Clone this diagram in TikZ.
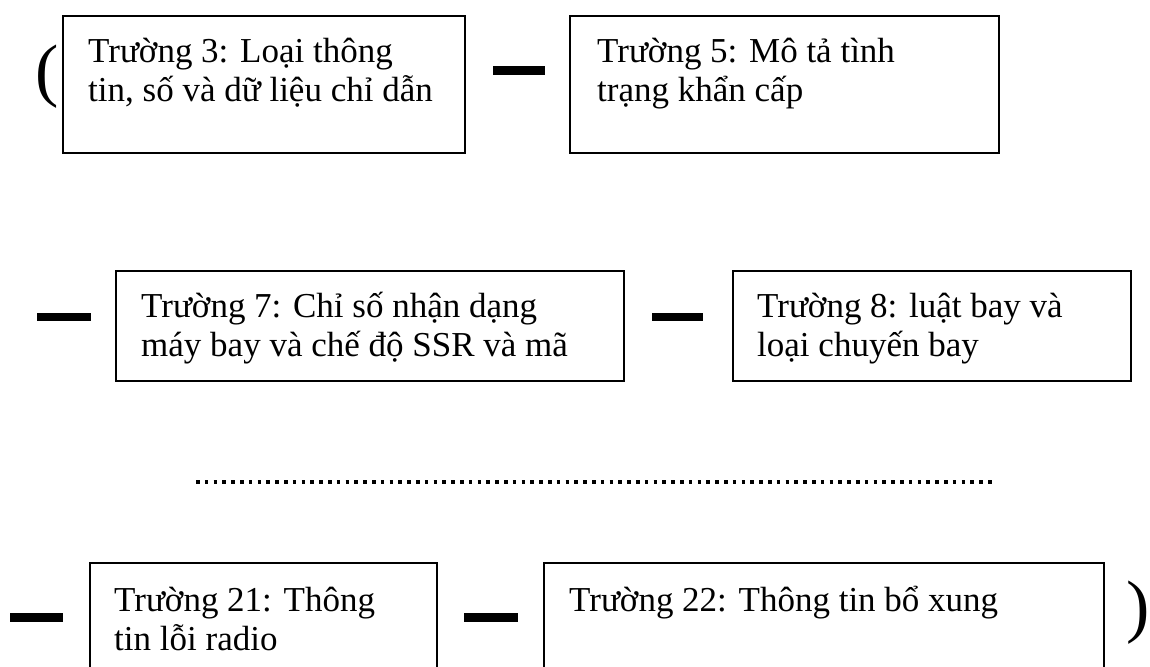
\documentclass[tikz,border=0pt]{standalone}
\usepackage{fontspec}
\setmainfont{Liberation Serif}
\tikzset{
  fieldbox/.style={draw, line width=1.8pt, anchor=north west, inner sep=0pt, outer sep=0pt},
  fieldtext/.style={anchor=base west, inner sep=0pt, font=\fontsize{35}{39}\selectfont},
  bar/.style={line width=8.5pt},
  paren/.style={inner sep=0pt, font=\fontsize{70}{70}\selectfont},
  dotrow/.style={line width=3.5pt, dash pattern=on 3.5pt off 5.3pt}
}
\begin{document}
\begin{tikzpicture}[x=1pt, y=-1pt]
  \clip (0,0) rectangle (1150,666);
  \fill[white] (0,0) rectangle (1150,666);

  % row 1
  \node[paren] (open) at (47,77) {(};
  \node[fieldbox, minimum width=402pt, minimum height=137pt] (f3) at (63,16) {};
  \node[fieldtext] (f3a) at (88,63) {Trường 3: Loại thông};
  \node[fieldtext] (f3b) at (88,102) {tin, số và dữ liệu chỉ dẫn};
  \draw[bar] (493,70.5) -- (545,70.5);
  \node[fieldbox, minimum width=429pt, minimum height=137pt] (f5) at (570,16) {};
  \node[fieldtext] (f5a) at (597,63) {Trường 5: Mô tả tình};
  \node[fieldtext] (f5b) at (597,102) {trạng khẩn cấp};

  % row 2
  \draw[bar] (37,317) -- (91,317);
  \node[fieldbox, minimum width=508pt, minimum height=110pt] (f7) at (116,271) {};
  \node[fieldtext] (f7a) at (141,317) {Trường 7: Chỉ số nhận dạng};
  \node[fieldtext] (f7b) at (141,356) {máy bay và chế độ SSR và mã};
  \draw[bar] (652,317) -- (703,317);
  \node[fieldbox, minimum width=398pt, minimum height=110pt] (f8) at (733,271) {};
  \node[fieldtext] (f8a) at (757,317) {Trường 8: luật bay và};
  \node[fieldtext] (f8b) at (757,356) {loại chuyến bay};

  % omitted fields
  \draw[dotrow] (196,482) -- (995,482);

  % row 3
  \draw[bar] (10,617.5) -- (63,617.5);
  \node[fieldbox, minimum width=347pt, minimum height=140pt] (f21) at (90,563) {};
  \node[fieldtext] (f21a) at (114,611) {Trường 21: Thông};
  \node[fieldtext] (f21b) at (114,650) {tin lỗi radio};
  \draw[bar] (464,617.5) -- (518,617.5);
  \node[fieldbox, minimum width=560pt, minimum height=140pt] (f22) at (544,563) {};
  \node[fieldtext] (f22a) at (569,611) {Trường 22: Thông tin bổ xung};
  \node[paren] (close) at (1138,613) {)};
\end{tikzpicture}
\end{document}
